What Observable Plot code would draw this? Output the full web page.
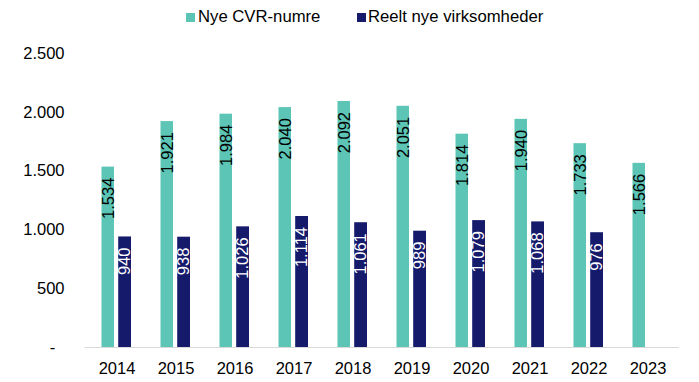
<!DOCTYPE html>
<html>
<head>
<meta charset="utf-8">
<script src="https://cdn.jsdelivr.net/npm/d3@7"></script>
<script src="https://cdn.jsdelivr.net/npm/@observablehq/plot@0.6"></script>
<style>
  html, body { margin: 0; padding: 0; background: #fff; }
  body { width: 699px; height: 382px; overflow: hidden; font-family: "Liberation Sans", Arial, sans-serif; }
  #legend { position: relative; height: 34px; font-size: 16.7px; color: #000; }
  .sw { position: absolute; top: 13px; width: 9px; height: 9px; }
  .lt { position: absolute; top: 7px; line-height: 20px; white-space: nowrap; }
  #chart svg { display: block; }
</style>
</head>
<body>
<div id="legend"></div>
<div id="chart"></div>
<script>
const years = ["2014","2015","2016","2017","2018","2019","2020","2021","2022","2023"];
const nyeCVR = [1534, 1921, 1984, 2040, 2092, 2051, 1814, 1940, 1733, 1566];
const reeltNye = [940, 938, 1026, 1114, 1061, 989, 1079, 1068, 976, null];
const seriesNames = ["Nye CVR-numre", "Reelt nye virksomheder"];
const seriesColors = ["#5cc5b5", "#161a6b"];
const yTicks = [0, 500, 1000, 1500, 2000, 2500];

const fmt = v => d3.format(",")(v).replace(/,/g, ".");

const teal = years.map((y, i) => ({year: y, value: nyeCVR[i]}));
const navy = years.map((y, i) => ({year: y, value: reeltNye[i]})).filter(d => d.value != null);

// legend
const legend = document.getElementById("legend");
const legPos = [{sw: 186, tx: 198}, {sw: 357, tx: 368}];
seriesNames.forEach((n, i) => {
  const s = document.createElement("div");
  s.className = "sw"; s.style.left = legPos[i].sw + "px"; s.style.background = seriesColors[i];
  const t = document.createElement("div");
  t.className = "lt"; t.style.left = legPos[i].tx + "px"; t.textContent = n;
  legend.append(s, t);
});

const chart = Plot.plot({
  width: 699,
  height: 348,
  marginLeft: 84.5,
  marginRight: 20,
  marginTop: 19,
  marginBottom: 35,
  style: {fontFamily: "'Liberation Sans', Arial, sans-serif", fontSize: "16.5px", color: "#000", background: "#fff"},
  x: {type: "band", domain: years, padding: 0, label: null, tickSize: 0, tickPadding: 15},
  y: {domain: [0, 2500], ticks: yTicks, label: null, tickSize: 0, tickPadding: 20.5,
      tickFormat: v => v === 0 ? "-\u00a0\u00a0" : fmt(v)},
  marks: [
    Plot.barY(teal, {x: "year", y: "value", fill: seriesColors[0], insetLeft: 14.5, insetRight: 32}),
    Plot.barY(navy, {x: "year", y: "value", fill: seriesColors[1], insetLeft: 31.2, insetRight: 15}),
    Plot.ruleY([0], {stroke: "#d9d9d9", strokeWidth: 1}),
    Plot.text(teal, {x: "year", y: "value", text: d => fmt(d.value), rotate: -90, textAnchor: "end",
      lineAnchor: "middle", dx: -8.7, dy: 10.5, fill: "#000", fontSize: 16.5}),
    Plot.text(navy, {x: "year", y: "value", text: d => fmt(d.value), rotate: -90, textAnchor: "end",
      lineAnchor: "middle", dx: 8.2, dy: 10.5, fill: "#fff", fontSize: 16.5})
  ]
});
document.getElementById("chart").append(chart);
</script>
</body>
</html>
